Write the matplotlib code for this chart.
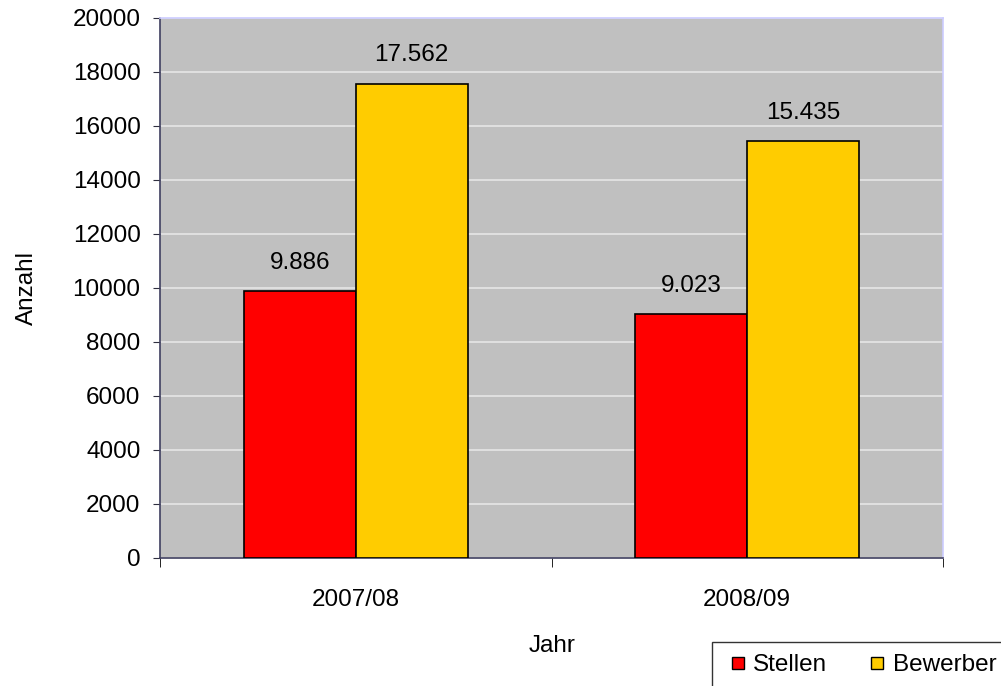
import numpy as np
import matplotlib.pyplot as plt
from matplotlib.lines import Line2D

plt.rcParams['font.family'] = ['Liberation Sans', 'DejaVu Sans']

jahre = ['2007/08', '2008/09']
stellen = [9886, 9023]
bewerber = [17562, 15435]
stellen_txt = ['9.886', '9.023']
bewerber_txt = ['17.562', '15.435']

fs = 17.5

fig = plt.figure(figsize=(10.01, 6.86), dpi=100)
ax = fig.add_axes([160/1001, 1-558/686, (943-160)/1001, (558-18)/686])
ax.set_facecolor('#c0c0c0')

x = np.arange(len(jahre))
w = 0.286
ax.bar(x - w/2, stellen, w, color='#ff0000', edgecolor='black', linewidth=1.2, zorder=3)
ax.bar(x + w/2, bewerber, w, color='#ffcc00', edgecolor='black', linewidth=1.2, zorder=3)

for i in range(len(jahre)):
    ax.text(x[i] - w/2, stellen[i] + 650, stellen_txt[i], ha='center', va='bottom', fontsize=fs)
    ax.text(x[i] + w/2, bewerber[i] + 650, bewerber_txt[i], ha='center', va='bottom', fontsize=fs)

ax.set_xlim(-0.5, 1.5)
ax.set_ylim(0, 20000)
ax.set_yticks(np.arange(0, 20001, 2000))
ax.yaxis.grid(True, color='#e6e6e6', linewidth=1.2, zorder=0)
ax.set_axisbelow(True)

ax.set_xticks(x)
ax.set_xticklabels(jahre)
ax.set_xticks([-0.5, 0.5, 1.5], minor=True)
ax.tick_params(axis='x', which='major', length=0, pad=22, labelsize=fs)
ax.tick_params(axis='x', which='minor', length=6.5, direction='out', color='black')
ax.tick_params(axis='y', length=5, direction='out', labelsize=fs, pad=9, color='#303040')

ax.spines['left'].set_color('#404060')
ax.spines['bottom'].set_color('#404060')
ax.spines['top'].set_color('#ccccff')
ax.spines['right'].set_color('#ccccff')
for s in ax.spines.values():
    s.set_linewidth(1.2)

fig.text(27/1001, 1-288/686, 'Anzahl', rotation=90, ha='center', va='center', fontsize=fs)
fig.text(552/1001, 1-646/686, 'Jahr', ha='center', va='center', fontsize=fs)

handles = [Line2D([], [], linestyle='none', marker='s', markersize=8, markerfacecolor='#ff0000',
                  markeredgecolor='black', markeredgewidth=1.0),
           Line2D([], [], linestyle='none', marker='s', markersize=8, markerfacecolor='#ffcc00',
                  markeredgecolor='black', markeredgewidth=1.0)]
leg = fig.legend(handles=handles, labels=['Stellen', 'Bewerber'], loc='upper left',
                 bbox_to_anchor=(712/1001, 1-642/686), ncol=2,
                 frameon=True, fancybox=False, edgecolor='black', fontsize=fs,
                 handlelength=1.1, handletextpad=0.1, columnspacing=1.5,
                 borderaxespad=0, borderpad=0.5)
leg.get_frame().set_linewidth(1.0)

fig.savefig('out.png', dpi=100)
